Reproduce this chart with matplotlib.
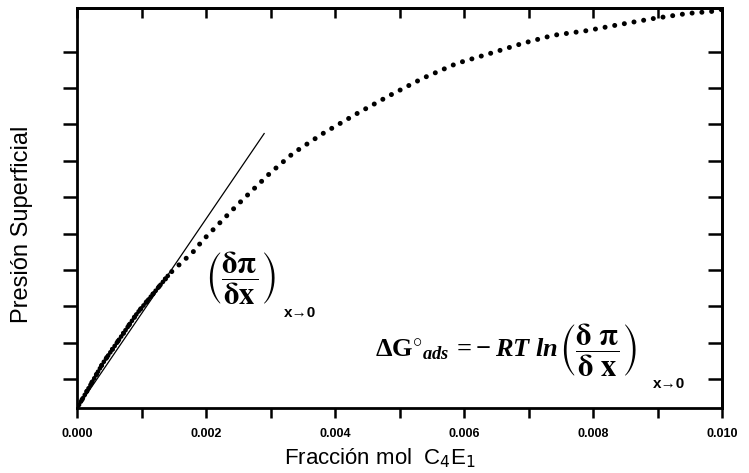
import numpy as np
import matplotlib.pyplot as plt

plt.rcParams['font.family'] = ['Liberation Sans', 'DejaVu Sans']
plt.rcParams['mathtext.fontset'] = 'custom'
plt.rcParams['mathtext.rm'] = 'Liberation Serif:bold'
plt.rcParams['mathtext.it'] = 'Liberation Serif:italic:bold'
plt.rcParams['mathtext.bf'] = 'Liberation Serif:bold'

# surface pressure vs mole fraction of C4E1 (arbitrary pressure units)
frac_mol = [0.0, 0.00040, 0.00093, 0.00144, 0.00180, 0.00195, 0.00248, 0.00299,
            0.00335, 0.00381, 0.00434, 0.00485, 0.00536, 0.00589, 0.00640,
            0.00691, 0.00738, 0.00791, 0.00842, 0.00893, 0.00946, 0.00986, 0.01000]
presion = [0.0, 1.24, 2.61, 3.71, 4.30, 4.62, 5.58, 6.46,
           7.01, 7.55, 8.10, 8.60, 9.07, 9.48, 9.75,
           10.03, 10.25, 10.38, 10.55, 10.71, 10.85, 10.91, 10.96]

# limiting slope at x -> 0
tangente_x = [0.0, 0.0029]
tangente_y = [0.0, 7.55]

fig = plt.figure(figsize=(7.49, 4.73), dpi=100)
ax = fig.add_axes([0.103, 0.137, 0.861, 0.846])

ax.plot(frac_mol, presion, color='black', lw=3.6, dashes=(0.01, 1.95),
        dash_capstyle='round', solid_capstyle='round')
# measurements are much denser at low concentration
ax.plot(frac_mol[:4], presion[:4], color='black', lw=3.4, dashes=(0.01, 0.8),
        dash_capstyle='round')
ax.plot(tangente_x, tangente_y, color='black', lw=0.9)

ax.set_xlim(0, 0.010)
ax.set_ylim(0, 11)

ax.set_xticks(np.arange(0, 0.0101, 0.002))
ax.set_xticks(np.arange(0, 0.0101, 0.001), minor=True)
ax.set_xticklabels(['0.000', '0.002', '0.004', '0.006', '0.008', '0.010'],
                   fontweight='bold', fontsize=9)
ax.set_yticks(np.arange(0.8, 10.0, 1.0))
ax.set_yticklabels([])

ax.tick_params(axis='x', which='both', direction='out', length=7, width=1.8,
               top=False, pad=7)
ax.tick_params(axis='y', which='both', direction='out', length=10, width=1.8)

# inward ticks on the top and right frame
ax_top = ax.secondary_xaxis('top')
ax_top.set_xticks(np.arange(0, 0.0101, 0.001))
ax_top.tick_params(direction='in', length=7, width=1.8, labeltop=False)
ax_top.spines['top'].set_linewidth(2)
ax_r = ax.secondary_yaxis('right')
ax_r.set_yticks(np.arange(0.8, 10.0, 1.0))
ax_r.tick_params(direction='in', length=10, width=1.8, labelright=False)
ax_r.spines['right'].set_linewidth(2)

for s in ax.spines.values():
    s.set_linewidth(2)

ax.set_xlabel(r'Fracción mol  C$_\mathsf{4}$E$_\mathsf{1}$', fontsize=16)
ax.xaxis.set_label_coords(0.47, -0.095)
ax.set_ylabel('Presión Superficial', fontsize=17)
ax.yaxis.set_label_coords(-0.068, 0.46)

# slope label next to the tangent
ax.text(0.00253, 3.57, r'$\left(\dfrac{\mathbf{\delta\pi}}{\mathbf{\delta x}}\right)$',
        fontsize=22, math_fontfamily='stix', ha='center', va='center')
ax.text(0.00345, 2.62, 'x→0', fontsize=11, fontweight='bold',
        ha='center', va='center')

# standard free energy of adsorption
ax.text(0.00462, 1.62, r'$\mathrm{\Delta G^{\circ}}_{ads}\,=\!-RT\ ln$',
        fontsize=19, ha='left', va='center')
ax.text(0.00808, 1.59, r'$\left(\dfrac{\mathbf{\delta\ \pi}}{\mathbf{\delta\ x}}\right)$',
        fontsize=22, math_fontfamily='stix', ha='center', va='center')
ax.text(0.00918, 0.66, 'x→0', fontsize=11, fontweight='bold',
        ha='center', va='center')

fig.savefig('out.png', dpi=100)
